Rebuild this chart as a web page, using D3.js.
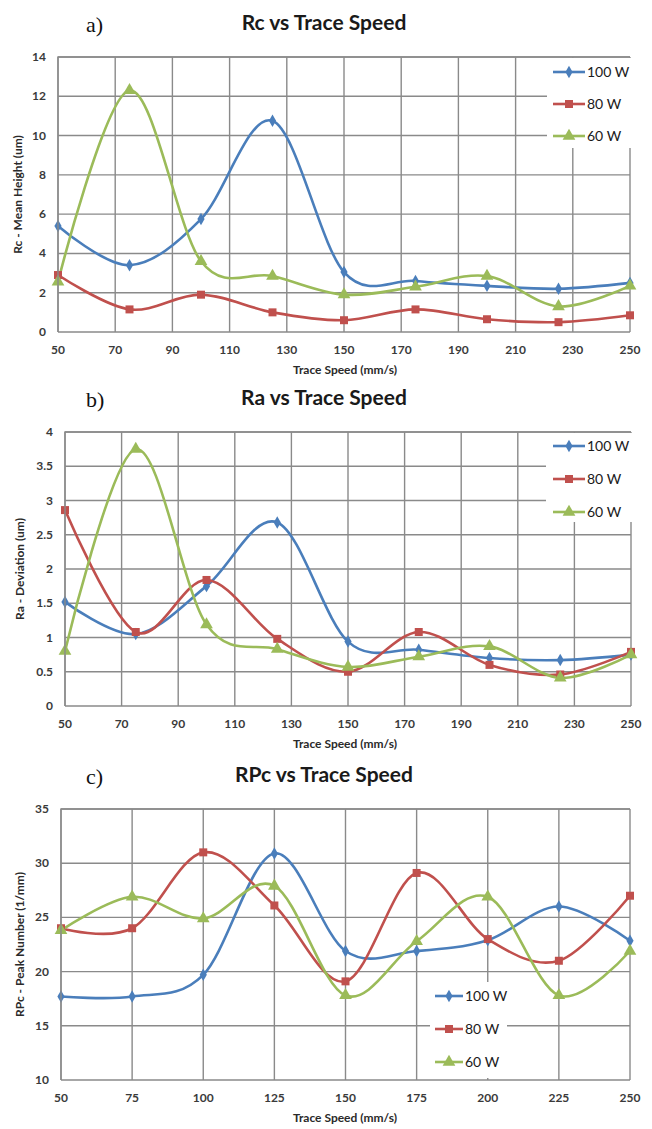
<!DOCTYPE html>
<html>
<head>
<meta charset="utf-8">
<script src="https://cdn.jsdelivr.net/npm/d3@7"></script>
<style>
  html, body { margin: 0; padding: 0; background: #fff; }
  svg { display: block; }
  .tick-label { font-family: Lato, "Open Sans", sans-serif; font-weight: bold; font-size: 12px; fill: #3a3a3a; }
  .axis-title { font-family: Lato, "Open Sans", sans-serif; font-weight: bold; font-size: 12px; fill: #2a2a2a; }
  .chart-title { font-family: Lato, "Open Sans", sans-serif; font-weight: bold; font-size: 21px; fill: #1a1a1a; }
  .panel-label { font-family: "Liberation Serif", "DejaVu Serif", serif; font-size: 22px; fill: #111; }
  .legend-text { font-family: Lato, "Open Sans", sans-serif; font-size: 14px; fill: #1a1a1a; }
</style>
</head>
<body>
<div id="chart"></div>
<script>
// Trace speeds shared by all three panels
var speeds = [50, 75, 100, 125, 150, 175, 200, 225, 250];

var seriesNames = ["100 W", "80 W", "60 W"];
var seriesColors = ["#4a7ebb", "#c0504d", "#9bbb59"];

// a) Rc - Mean Height (um)
var rc100 = [5.4, 3.4, 5.75, 10.75, 3.05, 2.6, 2.35, 2.2, 2.5];
var rc80 = [2.9, 1.15, 1.9, 1.0, 0.6, 1.15, 0.65, 0.5, 0.85];
var rc60 = [2.55, 12.3, 3.6, 2.85, 1.9, 2.3, 2.85, 1.3, 2.35];

// b) Ra - Deviation (um)
var ra100 = [1.52, 1.05, 1.75, 2.68, 0.94, 0.82, 0.7, 0.67, 0.75];
var ra80 = [2.86, 1.08, 1.84, 0.98, 0.5, 1.08, 0.6, 0.46, 0.79];
var ra60 = [0.8, 3.75, 1.19, 0.83, 0.57, 0.72, 0.87, 0.41, 0.75];

// c) RPc - Peak Number (1/mm)
var rpc100 = [17.7, 17.7, 19.7, 30.9, 21.9, 21.9, 22.9, 26, 22.85];
var rpc80 = [24, 24, 31, 26.1, 19.1, 29.1, 23, 21, 27];
var rpc60 = [23.8, 26.9, 24.9, 27.9, 17.8, 22.8, 26.9, 17.8, 21.9];

// Tick labels
var xTicksAB = [50, 70, 90, 110, 130, 150, 170, 190, 210, 230, 250];
var xTicksC = [50, 75, 100, 125, 150, 175, 200, 225, 250];
var yTicksA = [0, 2, 4, 6, 8, 10, 12, 14];
var yTicksB = [0, 0.5, 1, 1.5, 2, 2.5, 3, 3.5, 4];
var yTicksC = [10, 15, 20, 25, 30, 35];

var width = 652, height = 1129;

var svg = d3.select("#chart").append("svg")
    .attr("width", width)
    .attr("height", height);

var symbols = [d3.symbolDiamond, d3.symbolSquare, d3.symbolTriangle];
var symbolSizes = [45, 64, 70];

function drawPanel(cfg) {
  var x = d3.scaleLinear().domain([50, 250]).range([cfg.left, cfg.right]);
  var y = d3.scaleLinear().domain(cfg.yDomain).range([cfg.bottom, cfg.top]);
  var g = svg.append("g");

  // panel letter and title
  g.append("text").attr("class", "panel-label")
      .attr("x", 86).attr("y", cfg.top - 25)
      .text(cfg.letter);
  g.append("text").attr("class", "chart-title")
      .attr("x", 324).attr("y", cfg.top - 27)
      .attr("text-anchor", "middle")
      .text(cfg.title);

  // grid
  g.selectAll(".vgrid").data(cfg.xTicks).enter().append("line")
      .attr("x1", function(d) { return x(d); })
      .attr("x2", function(d) { return x(d); })
      .attr("y1", cfg.top).attr("y2", cfg.bottom)
      .attr("stroke", "#8a8a8a").attr("stroke-width", 1.4);
  g.selectAll(".hgrid").data(cfg.yTicks).enter().append("line")
      .attr("x1", cfg.left).attr("x2", cfg.right)
      .attr("y1", function(d) { return y(d); })
      .attr("y2", function(d) { return y(d); })
      .attr("stroke", "#8a8a8a").attr("stroke-width", 1.4);

  // tick labels
  g.selectAll(".xl").data(cfg.xTicks).enter().append("text")
      .attr("class", "tick-label")
      .attr("x", function(d) { return x(d); })
      .attr("y", cfg.bottom + 22)
      .attr("text-anchor", "middle")
      .text(function(d) { return d; });
  g.selectAll(".yl").data(cfg.yTicks).enter().append("text")
      .attr("class", "tick-label")
      .attr("x", cfg.left - 12)
      .attr("y", function(d) { return y(d) + 4; })
      .attr("text-anchor", "end")
      .text(function(d) { return String(d); });

  // axis titles
  g.append("text").attr("class", "axis-title")
      .attr("x", 345).attr("y", cfg.bottom + 42)
      .attr("text-anchor", "middle")
      .text("Trace Speed (mm/s)");
  g.append("text").attr("class", "axis-title")
      .attr("transform", "translate(" + (cfg.yTitleX) + "," + ((cfg.top + cfg.bottom) / 2) + ") rotate(-90)")
      .attr("text-anchor", "middle")
      .text(cfg.yTitle);

  // smooth lines, like Excel's smoothed line chart
  var line = d3.line()
      .x(function(d) { return x(d[0]); })
      .y(function(d) { return y(d[1]); })
      .curve(d3.curveCardinal.tension(0));

  cfg.series.forEach(function(vals, i) {
    var pts = speeds.map(function(s, j) { return [s, vals[j]]; });
    g.append("path")
        .datum(pts)
        .attr("d", line)
        .attr("fill", "none")
        .attr("stroke", seriesColors[i])
        .attr("stroke-width", 2.6);
  });
  cfg.series.forEach(function(vals, i) {
    var pts = speeds.map(function(s, j) { return [s, vals[j]]; });
    g.selectAll(".m" + i).data(pts).enter().append("path")
        .attr("transform", function(d) { return "translate(" + x(d[0]) + "," + y(d[1]) + ")"; })
        .attr("d", d3.symbol().type(symbols[i]).size(symbolSizes[i]))
        .attr("fill", seriesColors[i]);
  });

  // legend
  var lg = cfg.legend;
  g.append("rect")
      .attr("x", lg.x).attr("y", lg.y)
      .attr("width", lg.w).attr("height", lg.h)
      .attr("fill", "#fff");
  seriesNames.forEach(function(name, i) {
    var ly = lg.firstY + i * lg.step;
    g.append("line")
        .attr("x1", lg.sx).attr("x2", lg.sx + lg.sw)
        .attr("y1", ly).attr("y2", ly)
        .attr("stroke", seriesColors[i]).attr("stroke-width", 2.6);
    g.append("path")
        .attr("transform", "translate(" + (lg.sx + lg.sw / 2) + "," + ly + ")")
        .attr("d", d3.symbol().type(symbols[i]).size(symbolSizes[i]))
        .attr("fill", seriesColors[i]);
    g.append("text").attr("class", "legend-text")
        .attr("x", lg.sx + lg.sw + 2).attr("y", ly + 5)
        .text(name);
  });

  // plot border on top of the legend box edges
  g.append("path")
      .attr("d", "M" + cfg.left + "," + cfg.bottom + "V" + cfg.top + "H" + cfg.right)
      .attr("fill", "none").attr("stroke", "#8a8a8a").attr("stroke-width", 1.4);
}

drawPanel({
  letter: "a)", title: "Rc vs Trace Speed", yTitle: "Rc - Mean Height (um)",
  left: 58, right: 630, top: 57, bottom: 332, yTitleX: 22,
  yDomain: [0, 14], xTicks: xTicksAB, yTicks: yTicksA,
  series: [rc100, rc80, rc60],
  legend: { x: 547, y: 58, w: 88, h: 90, sx: 553, sw: 32, firstY: 72, step: 32 }
});

drawPanel({
  letter: "b)", title: "Ra vs Trace Speed", yTitle: "Ra - Deviation (um)",
  left: 65, right: 631, top: 432, bottom: 706, yTitleX: 24,
  yDomain: [0, 4], xTicks: xTicksAB, yTicks: yTicksB,
  series: [ra100, ra80, ra60],
  legend: { x: 546, y: 433, w: 90, h: 89, sx: 553, sw: 32, firstY: 446, step: 33 }
});

drawPanel({
  letter: "c)", title: "RPc vs Trace Speed", yTitle: "RPc - Peak Number (1/mm)",
  left: 61, right: 630, top: 809, bottom: 1080, yTitleX: 24,
  yDomain: [10, 35], xTicks: xTicksC, yTicks: yTicksC,
  series: [rpc100, rpc80, rpc60],
  legend: { x: 430, y: 982, w: 77, h: 96, sx: 435, sw: 28, firstY: 996, step: 33 }
});
</script>
</body>
</html>
